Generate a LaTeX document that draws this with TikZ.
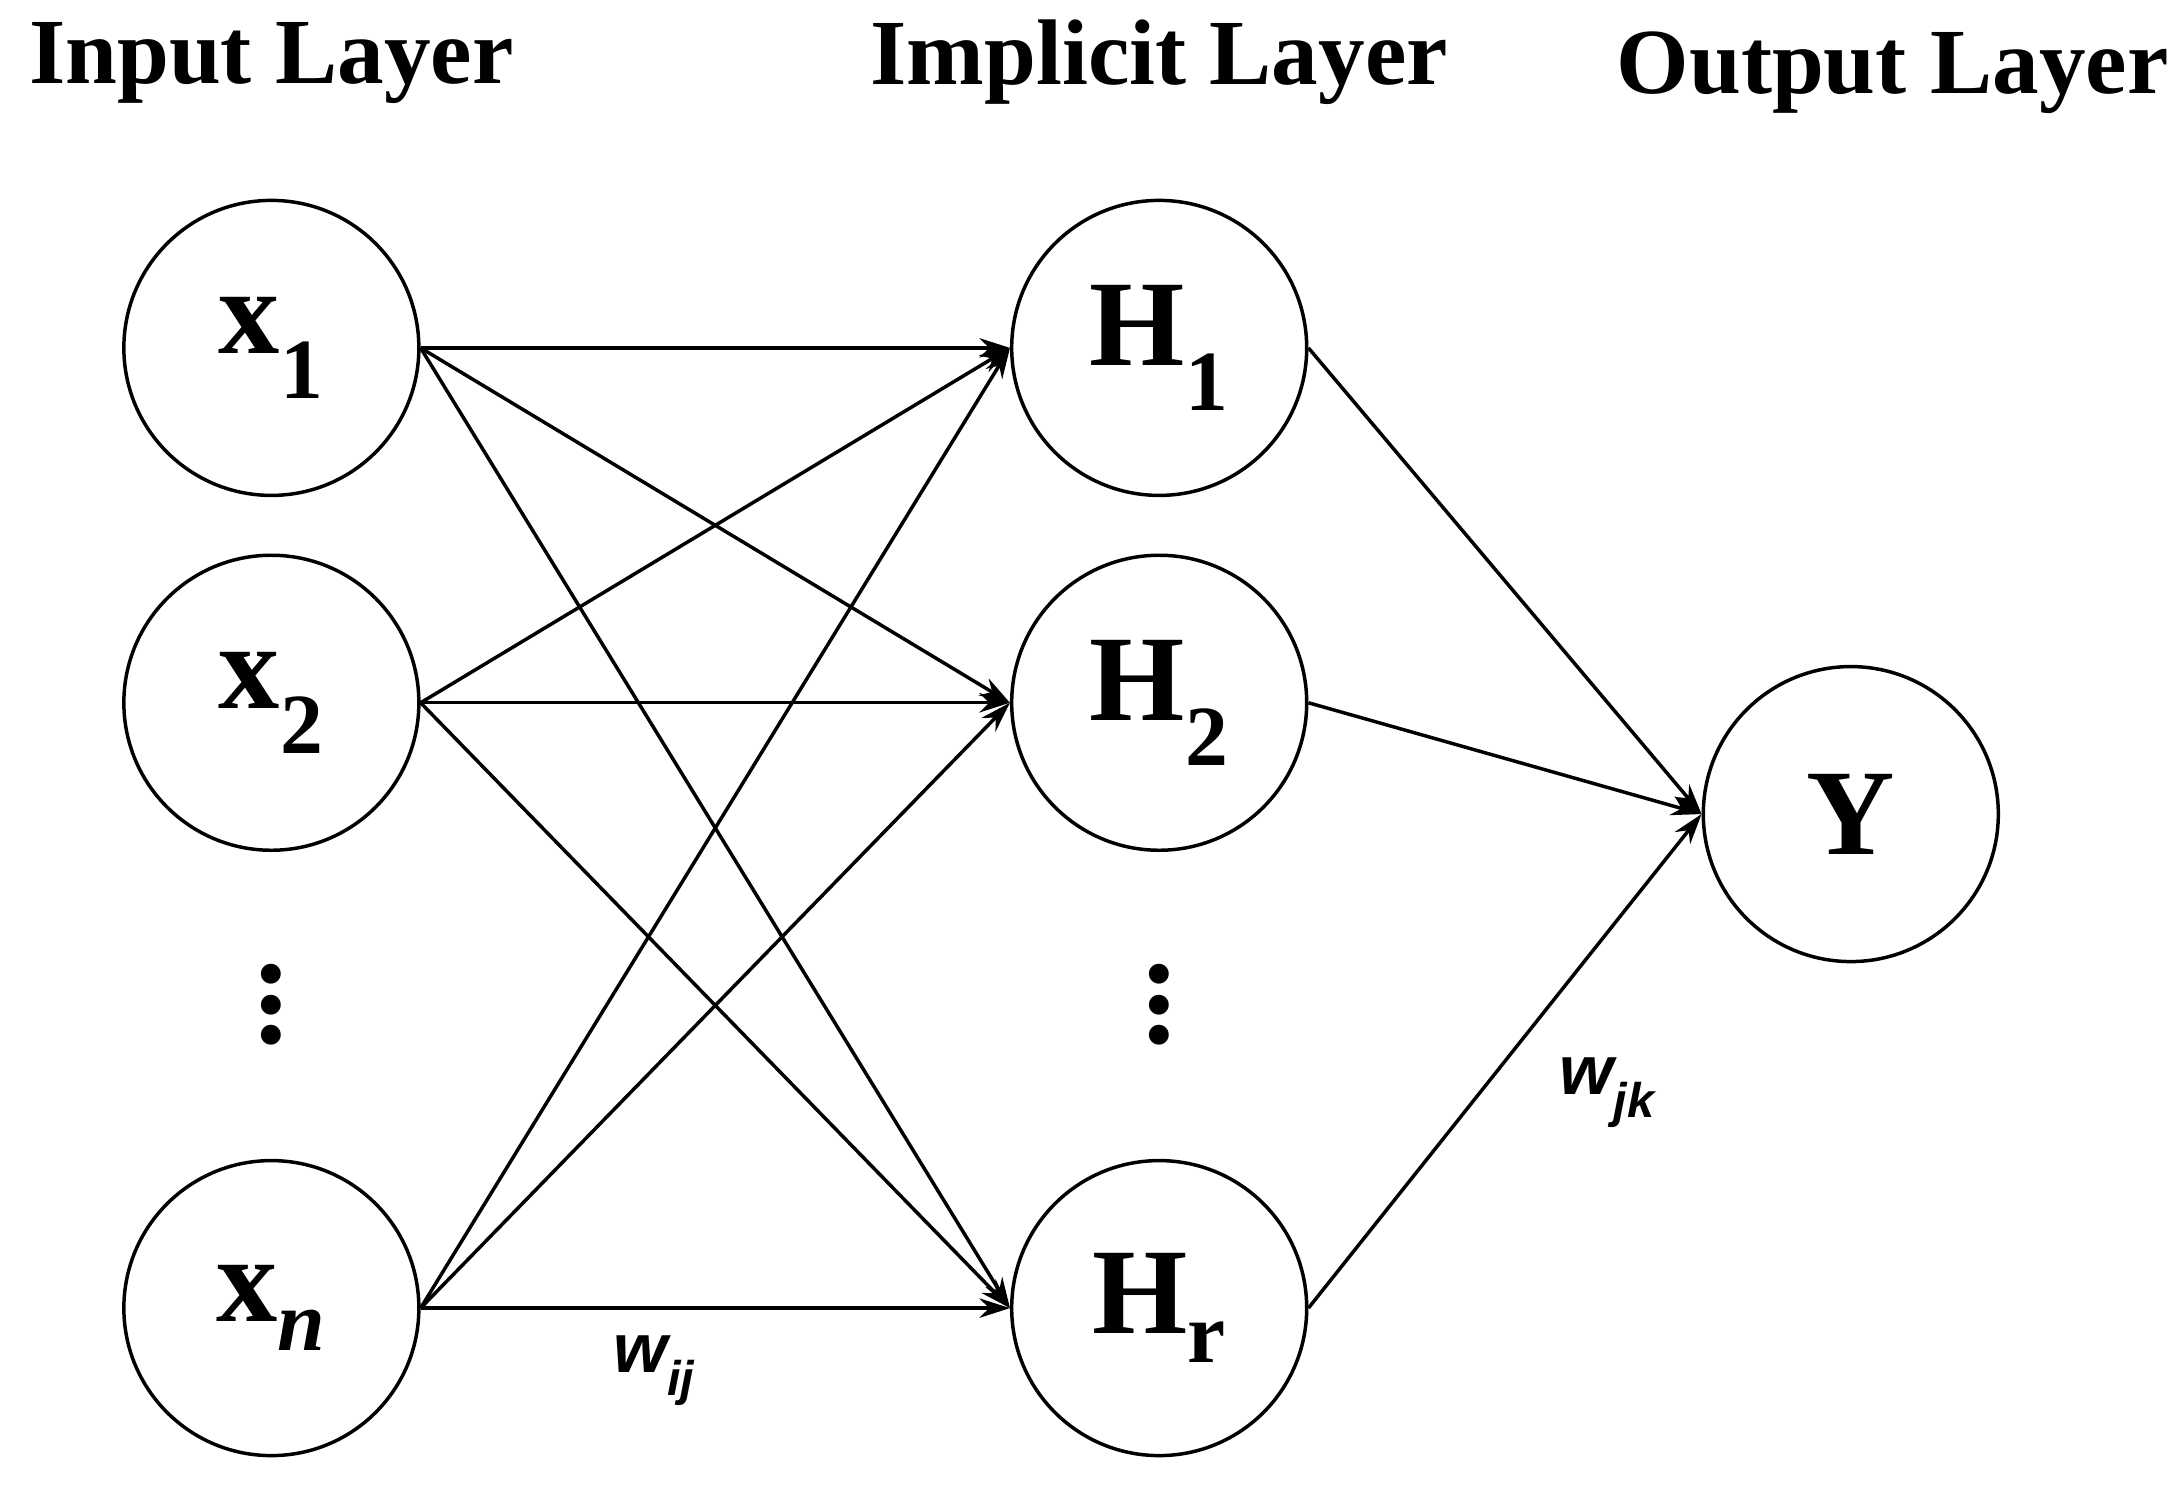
\documentclass[tikz,border=0pt]{standalone}
\usepackage{fontspec}
\setmainfont{Liberation Serif}
\newfontfamily\sansf{Liberation Sans}
\usetikzlibrary{arrows.meta}
\begin{document}
\begin{tikzpicture}[x=1pt,y=-1pt,
  neuron/.style={circle,draw,line width=2.5pt,minimum size=212pt,inner sep=0pt},
  title/.style={font=\fontsize{67}{70}\selectfont\bfseries},
  lab/.style={font=\fontsize{88}{90}\selectfont\bfseries},
  wl/.style={font=\fontsize{50}{52}\selectfont\sansf\bfseries\itshape},
  conn/.style={line width=2.5pt,-{Stealth[length=22pt,width=14pt]}}]
\useasboundingbox (0,0) rectangle (1568,1073);
\node[title] (t1) at (195,45) {Input Layer};
\node[title] (t2) at (833,45) {Implicit Layer};
\node[title] (t3) at (1360,52) {Output Layer};
\node[neuron,lab] (x1) at (195,250) {x\textsubscript{1}};
\node[neuron,lab] (x2) at (195,505) {x\textsubscript{2}};
\node[neuron,lab] (xn) at (195,940) {x\textsubscript{\textit{n}}};
\node[neuron,lab] (h1) at (833,250) {H\textsubscript{1}};
\node[neuron,lab] (h2) at (833,505) {H\textsubscript{2}};
\node[neuron,lab] (hr) at (833,940) {H\textsubscript{r}};
\node[neuron,lab] (y) at (1330,585) {Y};
\node[lab] (d1) at (195,722) {\rotatebox{90}{\textbf{...}}};
\node[lab] (d2) at (833,722) {\rotatebox{90}{\textbf{...}}};
\foreach \a in {x1,x2,xn}{\foreach \b in {h1,h2,hr}{\draw[conn] (\a.east) -- (\b.west);}}
\foreach \b in {h1,h2,hr}{\draw[conn] (\b.east) -- (y.west);}
\node[wl] (wij) at (470,985) {w\textsubscript{ij}};
\node[wl] (wjk) at (1155,785) {w\textsubscript{jk}};
\end{tikzpicture}
\end{document}
